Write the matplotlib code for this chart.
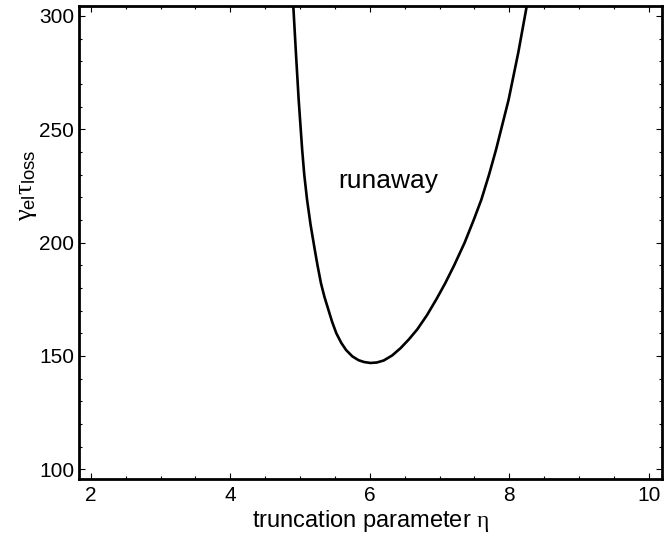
import numpy as np
import matplotlib.pyplot as plt
from matplotlib.ticker import MultipleLocator

plt.rcParams['font.family'] = ['Liberation Sans', 'DejaVu Sans']
plt.rcParams['mathtext.fontset'] = 'custom'
plt.rcParams['mathtext.rm'] = 'Liberation Serif'
plt.rcParams['mathtext.it'] = 'Liberation Serif'
plt.rcParams['mathtext.sf'] = 'Liberation Sans'

# runaway boundary: truncation parameter eta vs gamma_el * tau_loss
eta = [4.90, 4.94, 4.98, 5.03, 5.06, 5.10, 5.15, 5.21, 5.25, 5.30, 5.35,
       5.41, 5.46, 5.52, 5.59, 5.66, 5.75, 5.84, 5.92, 6.01, 6.10, 6.20,
       6.32, 6.44, 6.56, 6.68, 6.82, 6.96, 7.08, 7.21, 7.36, 7.49, 7.60,
       7.71, 7.81, 7.90, 7.99, 8.13, 8.26]
gamma_tau = [306.0, 284.0, 263.0, 241.0, 230.0, 219.0, 208.0, 197.0, 190.0,
             182.0, 176.0, 170.0, 165.0, 160.0, 155.8, 152.6, 149.8, 148.1,
             147.3, 146.9, 147.1, 148.0, 150.2, 153.4, 157.3, 161.7, 168.0,
             175.3, 182.0, 190.0, 200.0, 210.0, 219.0, 230.0, 241.0, 252.0,
             263.0, 284.0, 306.0]

xticks = [2, 4, 6, 8, 10]
yticks = [100, 150, 200, 250, 300]

fig = plt.figure(figsize=(6.65, 5.39), dpi=100)
ax = fig.add_axes([0.1188, 0.1113, 0.8767, 0.8776])

ax.plot(eta, gamma_tau, color='black', lw=1.9, solid_joinstyle='round')
ax.text(6.26, 227, 'runaway', fontsize=19, ha='center', va='center')

ax.set_xlim(1.83, 10.19)
ax.set_ylim(95.7, 304.4)
ax.set_xticks(xticks)
ax.set_yticks(yticks)
ax.xaxis.set_minor_locator(MultipleLocator(0.5))
ax.yaxis.set_minor_locator(MultipleLocator(10))
ax.tick_params(which='both', direction='in', top=True, right=True,
               labelsize=15, width=0.8)
ax.tick_params(axis='x', pad=5)
ax.tick_params(which='major', length=4)
ax.tick_params(which='minor', length=2.5)
for s in ax.spines.values():
    s.set_linewidth(2.0)

ax.set_xlabel(r'truncation parameter $\eta$', fontsize=17, labelpad=2)
ax.set_ylabel(r'$\gamma_{\mathsf{el}}\tau_{\mathsf{loss}}$', fontsize=19)
ax.yaxis.set_label_coords(-0.068, 0.62)

fig.savefig('out.png', dpi=100)
